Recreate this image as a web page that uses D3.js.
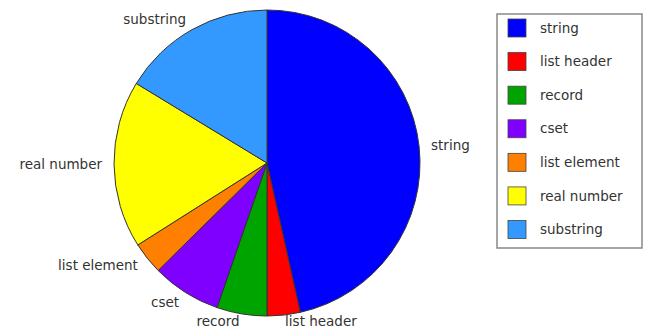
<!DOCTYPE html>
<html>
<head>
<meta charset="utf-8">
<script src="https://cdn.jsdelivr.net/npm/d3@7"></script>
<style>
	body { margin: 0; background: #fff; }
	text { font-family: "DejaVu Sans", sans-serif; font-size: 13.5px; fill: #333; }
</style>
</head>
<body>
<div id="chart"></div>
<script>
//------------------------------------------------------------------------------
// Data
//------------------------------------------------------------------------------

var categories = ["string", "list header", "record", "cset", "list element", "real number", "substring"];
var shares = [46.5, 3.5, 5.3, 7.3, 3.4, 17.7, 16.3];
var colours = ["#0000ff", "#ff0000", "#00a400", "#7f00ff", "#ff7f00", "#ffff00", "#3399ff"];

//------------------------------------------------------------------------------
// Plotting
//------------------------------------------------------------------------------

function draw_pie() {
	var width = 647, height = 330;
	var cx = 267, cy = 163, radius = 153;

	var svg = d3.select("#chart")
		.append("svg")
		.attr("width", width)
		.attr("height", height);

	var pie = d3.pie().sort(null).value(function(d) { return d.v; });
	var arc = d3.arc().innerRadius(0).outerRadius(radius);
	var labelArc = d3.arc().innerRadius(radius + 12).outerRadius(radius + 12);

	var rows = categories.map(function(c, i) { return {name: c, v: shares[i], col: colours[i]}; });
	var arcs = pie(rows);

	var g = svg.append("g").attr("transform", "translate(" + cx + "," + cy + ")");

	g.selectAll("path")
		.data(arcs)
		.enter().append("path")
		.attr("d", arc)
		.attr("fill", function(d) { return d.data.col; })
		.attr("stroke", "#333")
		.attr("stroke-width", 1);

	// keep the bottom labels inside the picture
	var maxY = height - cy - 9;

	g.selectAll("text.lab")
		.data(arcs)
		.enter().append("text")
		.attr("class", "lab")
		.attr("transform", function(d) {
			var p = labelArc.centroid(d);
			return "translate(" + p[0] + "," + Math.min(p[1], maxY) + ")";
		})
		.attr("dy", "0.35em")
		.attr("text-anchor", function(d) {
			var mid = (d.startAngle + d.endAngle) / 2;
			return Math.sin(mid) >= 0 ? "start" : "end";
		})
		.text(function(d) { return d.data.name; });

	// legend
	var lx = 497, ly = 14, lw = 145, lh = 234;
	var legend = svg.append("g");
	legend.append("rect")
		.attr("x", lx).attr("y", ly)
		.attr("width", lw).attr("height", lh)
		.attr("fill", "#fff")
		.attr("stroke", "#888")
		.attr("stroke-width", 1.5);

	var rowY = d3.scalePoint()
		.domain(categories)
		.range([ly + 14, ly + lh - 18.5]);

	var item = legend.selectAll("g.item")
		.data(rows)
		.enter().append("g")
		.attr("class", "item")
		.attr("transform", function(d) { return "translate(" + (lx + 11) + "," + rowY(d.name) + ")"; });

	item.append("rect")
		.attr("x", 0).attr("y", -9)
		.attr("width", 18).attr("height", 18)
		.attr("fill", function(d) { return d.col; })
		.attr("stroke", "#444")
		.attr("stroke-width", 0.8);

	item.append("text")
		.attr("x", 32)
		.attr("dy", "0.35em")
		.text(function(d) { return d.name; });
}

//------------------------------------------------------------------------------
// Main
//------------------------------------------------------------------------------

draw_pie();
</script>
</body>
</html>
